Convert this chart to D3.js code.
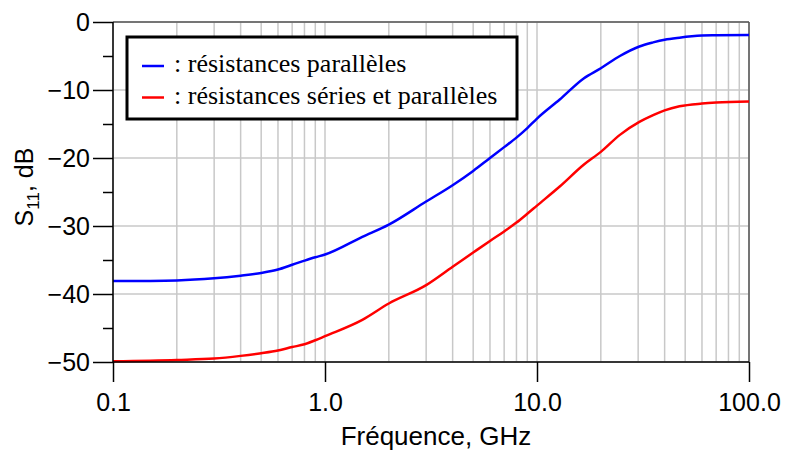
<!DOCTYPE html>
<html>
<head>
<meta charset="utf-8">
<script src="https://cdn.jsdelivr.net/npm/d3@7"></script>
<style>
  body { margin: 0; background: #fff; }
  svg text { font-family: "Liberation Sans", Arial, sans-serif; }
  .axis path { display: none; }
  .axis line { stroke: #000; stroke-width: 1.5; }
  .axis text { font-size: 25px; fill: #000; }
  .legend text { font-family: "Liberation Serif", "Times New Roman", serif; font-size: 26px; }
</style>
</head>
<body>
<svg id="chart" width="787" height="452"></svg>
<script>
// values
let freqs = [0.1, 0.2, 0.3, 0.4, 0.5, 0.6, 0.7, 0.8, 0.9, 1.0, 1.5, 2, 3, 4, 5, 6, 7, 8, 9, 10, 12.8, 16.6, 20, 24.6, 30.4, 35.3, 40, 47, 60, 70, 100];
let parallelDb = [-38.1, -38.0, -37.7, -37.3, -36.9, -36.4, -35.7, -35.1, -34.6, -34.2, -31.6, -29.8, -26.4, -24.0, -21.9, -20.0, -18.4, -17.0, -15.6, -14.2, -11.4, -8.3, -6.8, -5.0, -3.6, -3.0, -2.6, -2.3, -2.0, -1.95, -1.9];
let seriesParallelDb = [-49.9, -49.7, -49.5, -49.1, -48.7, -48.3, -47.8, -47.4, -46.8, -46.2, -43.8, -41.4, -38.7, -36.0, -33.9, -32.2, -30.8, -29.5, -28.2, -27.0, -24.2, -21.0, -19.1, -16.6, -14.7, -13.7, -13.0, -12.4, -12.0, -11.85, -11.7];
let xTicks = [0.1, 1, 10, 100];
let yTicks = [0, -10, -20, -30, -40, -50];
let yMinorTicks = [-5, -15, -25, -35, -45];
let seriesNames = [": résistances parallèles", ": résistances séries et parallèles"];
let seriesColors = ["#0000ff", "#ff0000"];

let margin = {top: 22, right: 38, bottom: 90, left: 113},
    width = 787 - margin.left - margin.right,
    height = 452 - margin.top - margin.bottom;

let svg = d3.select("#chart");
let g = svg.append("g")
    .attr("transform", "translate(" + margin.left + "," + margin.top + ")");

let x = d3.scaleLog().domain([0.1, 100]).range([0, width]);
let y = d3.scaleLinear().domain([-50, 0]).range([height, 0]);

// grid
g.selectAll(".vgrid")
    .data(x.ticks())
    .enter().append("line")
    .attr("class", "vgrid")
    .attr("x1", d => x(d)).attr("x2", d => x(d))
    .attr("y1", 0).attr("y2", height)
    .style("stroke", "#c8c8c8")
    .style("stroke-width", 1.5);

g.selectAll(".hgrid")
    .data(yTicks)
    .enter().append("line")
    .attr("class", "hgrid")
    .attr("x1", 0).attr("x2", width)
    .attr("y1", d => y(d)).attr("y2", d => y(d))
    .style("stroke", "#c8c8c8")
    .style("stroke-width", 1.5);

// frame top / right
g.append("line").attr("x1", 0).attr("x2", width).attr("y1", 0).attr("y2", 0)
    .style("stroke", "#555").style("stroke-width", 1.5);
g.append("line").attr("x1", width).attr("x2", width).attr("y1", 0).attr("y2", height)
    .style("stroke", "#555").style("stroke-width", 1.5);

// curves
let line = d3.line()
    .x((d, i) => x(freqs[i]))
    .y(d => y(d))
    .curve(d3.curveMonotoneX);

[parallelDb, seriesParallelDb].forEach(function (vals, i) {
    g.append("path")
        .attr("d", line(vals))
        .style("fill", "none")
        .style("stroke", seriesColors[i])
        .style("stroke-width", 2.5);
});

// axes
g.append("g")
    .attr("class", "x axis")
    .attr("transform", "translate(0," + height + ")")
    .call(d3.axisBottom(x).tickValues(xTicks).tickFormat(d3.format(".1f")).tickSize(20).tickPadding(11));

g.append("g")
    .attr("class", "y axis")
    .call(d3.axisLeft(y).tickValues(yTicks).tickFormat(d3.format("d")).tickSize(20).tickPadding(3));

g.append("g")
    .attr("class", "y axis minor")
    .call(d3.axisLeft(y).tickValues(yMinorTicks).tickFormat("").tickSize(10));

g.append("line").attr("x1", 0).attr("x2", 0).attr("y1", 0).attr("y2", height)
    .style("stroke", "#000").style("stroke-width", 1.5);
g.append("line").attr("x1", 0).attr("x2", width).attr("y1", height).attr("y2", height)
    .style("stroke", "#000").style("stroke-width", 1.5);

// axis titles
svg.append("text")
    .attr("x", 436).attr("y", 445)
    .attr("text-anchor", "middle")
    .style("font-size", "26px")
    .text("Fréquence, GHz");

let yTitle = svg.append("text")
    .attr("transform", "translate(33,187) rotate(-90)")
    .attr("text-anchor", "middle")
    .style("font-size", "25px");
yTitle.append("tspan").text("S");
yTitle.append("tspan").attr("dy", 6).style("font-size", "17px").text("11");
yTitle.append("tspan").attr("dy", -6).text(", dB");

// legend
let legend = svg.append("g").attr("class", "legend");
legend.append("rect")
    .attr("x", 127).attr("y", 37)
    .attr("width", 390).attr("height", 82)
    .style("fill", "#fff")
    .style("stroke", "#000")
    .style("stroke-width", 3);

seriesNames.forEach(function (name, i) {
    let yy = 66 + i * 31.5;
    legend.append("line")
        .attr("x1", 142).attr("x2", 164)
        .attr("y1", yy).attr("y2", yy)
        .style("stroke", seriesColors[i])
        .style("stroke-width", 2.5);
    legend.append("text")
        .attr("x", 174).attr("y", yy + 6)
        .text(name);
});
</script>
</body>
</html>
